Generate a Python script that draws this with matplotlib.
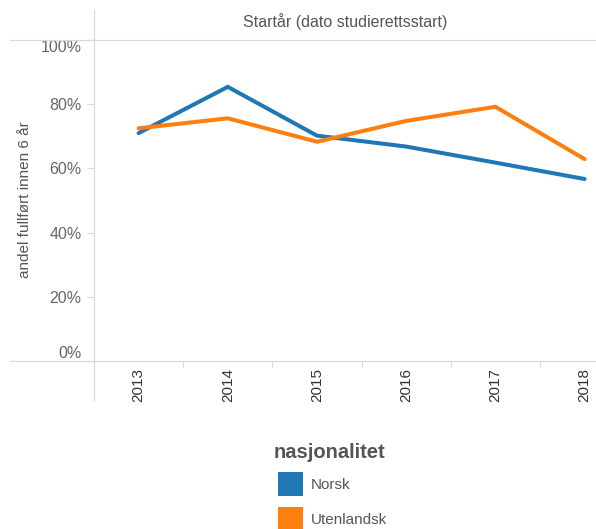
import matplotlib.pyplot as plt
from matplotlib.lines import Line2D
from matplotlib.patches import Rectangle
from matplotlib.ticker import FuncFormatter

plt.rcParams['font.family'] = ['Liberation Sans', 'DejaVu Sans']

# Daten
years = ['2013', '2014', '2015', '2016', '2017', '2018']
norsk = [71.0, 85.4, 70.2, 66.8, 61.8, 56.7]
utenlandsk = [72.5, 75.6, 68.3, 74.8, 79.2, 62.9]
y_ticks = [0, 20, 40, 60, 80, 100]
series_names = ['Norsk', 'Utenlandsk']
series_colors = ['#1f77b4', '#ff7f0e']

W, H = 596, 529
GRID = '#d9d9d9'


def fx(px):
    return px / W


def fy(py):
    return 1 - py / H


def setup_axes(fig):
    ax = fig.add_axes([fx(94), fy(361), 1 - fx(94), fy(40) - fy(361)])
    for s in ax.spines.values():
        s.set_visible(False)
    return ax


def draw_lines(ax):
    x = range(len(years))
    for vals, c in zip([norsk, utenlandsk], series_colors):
        ax.plot(x, vals, color=c, lw=2.9, solid_capstyle='round', solid_joinstyle='miter')


def style_ticks(ax):
    ax.set_yticks(y_ticks)
    ax.yaxis.set_major_formatter(FuncFormatter(lambda v, p: f'{int(v)}%'))
    ax.tick_params(axis='y', length=5, width=0.8, color=GRID, pad=4,
                   labelsize=11.5, labelcolor='#666666')
    for lab, v in zip(ax.get_yticklabels(), y_ticks):
        if v == 100:
            lab.set_va('top')
        elif v == 0:
            lab.set_va('bottom')

    ax.set_xticks(range(len(years)))
    ax.set_xticklabels(years, rotation=90, va='top')
    ax.set_xticks([i + 0.5 for i in range(len(years))], minor=True)
    ax.tick_params(axis='x', which='major', length=0, pad=5, labelsize=11, labelcolor='#333333')
    ax.tick_params(axis='x', which='minor', length=4, width=0.8, color=GRID)
    # Grenzen erst nach den Ticks setzen, sonst werden sie erweitert
    ax.set_xlim(-0.5, (596 - 94) / 89.2 - 0.5)
    ax.set_ylim(0, 100)


def draw_frame(fig):
    # Kopfzeile und Rahmenlinien
    fig.add_artist(Line2D([fx(10), 1], [fy(40), fy(40)], color=GRID, lw=0.9))
    fig.add_artist(Line2D([fx(10), 1], [fy(361), fy(361)], color=GRID, lw=0.9))
    fig.add_artist(Line2D([fx(94), fx(94)], [fy(10), fy(400)], color=GRID, lw=0.9))
    fig.text(fx(345), fy(22), 'Startår (dato studierettsstart)', ha='center', va='center',
             fontsize=11.5, color='#555555')
    fig.text(fx(25), fy(200), 'andel fullført innen 6 år', rotation=90, ha='center', va='center',
             fontsize=11, color='#555555')


def draw_legend(fig):
    fig.text(fx(274), fy(453), 'nasjonalitet', ha='left', va='center',
             fontsize=14.5, fontweight='bold', color='#555555')
    for i, (name, c) in enumerate(zip(series_names, series_colors)):
        top = 472 + i * 35
        fig.add_artist(Rectangle((fx(278), fy(top + 24)), fx(25), fy(top) - fy(top + 24),
                                 facecolor=c, edgecolor='none', transform=fig.transFigure))
        fig.text(fx(311), fy(top + 13), name, ha='left', va='center', fontsize=11, color='#555555')


def main():
    fig = plt.figure(figsize=(W / 100, H / 100), dpi=100)
    ax = setup_axes(fig)
    draw_lines(ax)
    style_ticks(ax)
    draw_frame(fig)
    draw_legend(fig)
    fig.savefig('out.png', dpi=100)


if __name__ == "__main__":
    main()
